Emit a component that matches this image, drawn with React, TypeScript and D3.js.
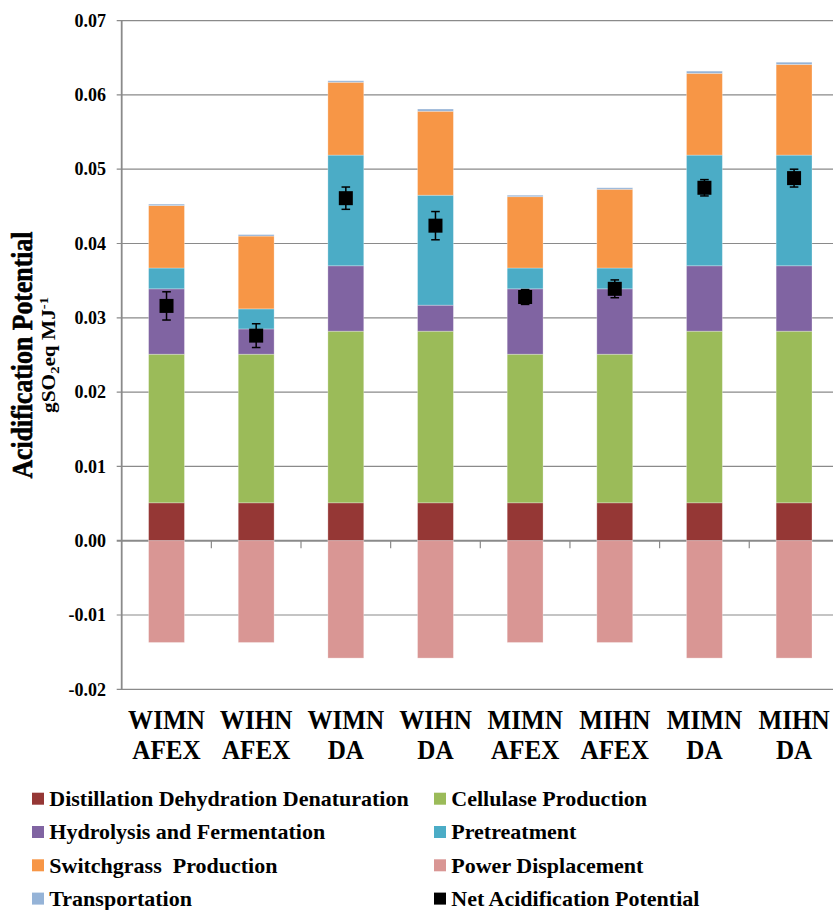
import React from "react";
import * as d3 from "d3";

const categories = [
  ["WIMN", "AFEX"],
  ["WIHN", "AFEX"],
  ["WIMN", "DA"],
  ["WIHN", "DA"],
  ["MIMN", "AFEX"],
  ["MIHN", "AFEX"],
  ["MIMN", "DA"],
  ["MIHN", "DA"],
];

const distillation = [0.0051, 0.0051, 0.0051, 0.0051, 0.0051, 0.0051, 0.0051, 0.0051];
const cellulase = [0.02, 0.02, 0.0231, 0.0231, 0.02, 0.02, 0.0231, 0.0231];
const hydrolysis = [0.0088, 0.0034, 0.0088, 0.0035, 0.0088, 0.0088, 0.0088, 0.0088];
const pretreatment = [0.0028, 0.0027, 0.0149, 0.0148, 0.0028, 0.0028, 0.0149, 0.0149];
const switchgrass = [0.0084, 0.0098, 0.0098, 0.0113, 0.0096, 0.0106, 0.011, 0.0122];
const transportation = [0.0002, 0.0002, 0.0002, 0.0003, 0.0002, 0.0002, 0.0003, 0.0003];
const powerDisplacement = [-0.0137, -0.0137, -0.0158, -0.0158, -0.0137, -0.0137, -0.0158, -0.0158];
const netAcidification = [0.0316, 0.0276, 0.0461, 0.0424, 0.0328, 0.0339, 0.0475, 0.0488];
const netError = [0.0019, 0.0016, 0.0015, 0.0019, 0.001, 0.0012, 0.0011, 0.0012];

const yTicks = [-0.02, -0.01, 0, 0.01, 0.02, 0.03, 0.04, 0.05, 0.06, 0.07];

const seriesDefs = [
  { key: "ddd", name: "Distillation Dehydration Denaturation", color: "#953735", values: distillation },
  { key: "cell", name: "Cellulase Production", color: "#9BBB59", values: cellulase },
  { key: "hyd", name: "Hydrolysis and Fermentation", color: "#8064A2", values: hydrolysis },
  { key: "pre", name: "Pretreatment", color: "#4BACC6", values: pretreatment },
  { key: "sw", name: "Switchgrass  Production", color: "#F79646", values: switchgrass },
  { key: "pow", name: "Power Displacement", color: "#D99694", values: powerDisplacement },
  { key: "tr", name: "Transportation", color: "#95B3D7", values: transportation },
];

const legendItems = [
  { name: "Distillation Dehydration Denaturation", color: "#953735" },
  { name: "Cellulase Production", color: "#9BBB59" },
  { name: "Hydrolysis and Fermentation", color: "#8064A2" },
  { name: "Pretreatment", color: "#4BACC6" },
  { name: "Switchgrass  Production", color: "#F79646" },
  { name: "Power Displacement", color: "#D99694" },
  { name: "Transportation", color: "#95B3D7" },
  { name: "Net Acidification Potential", color: "#000000" },
];

const FONT = "'Liberation Serif', 'Times New Roman', serif";
const fmtTick = (t: number) => d3.format(".2f")(t).replace("\u2212", "-");

export default function App() {
  const W = 833;
  const H = 910;
  const left = 121.7;
  const step = 89.65;
  const right = left + step * categories.length;

  const names = categories.map((c) => c.join(" "));
  const x = d3
    .scaleBand<string>()
    .domain(names)
    .range([left, right])
    .paddingInner(0.6)
    .paddingOuter(0.3);
  const y = d3.scaleLinear().domain([-0.02, 0.07]).range([689.3, 20.6]);

  const rows = names.map((n, i) => {
    const r: Record<string, number | string> = { name: n };
    seriesDefs.forEach((s) => (r[s.key] = s.values[i]));
    return r;
  });
  const stack = d3
    .stack<Record<string, number | string>>()
    .keys(seriesDefs.map((s) => s.key))
    .value((d, k) => d[k] as number)
    .offset(d3.stackOffsetDiverging);
  const layers = stack(rows);

  const gridColor = "#8a8a8a";
  const bw = x.bandwidth();

  return (
    <svg
      width={W}
      height={H}
      style={{ position: "absolute", left: 0, top: 0, background: "#fff" }}
      fontFamily={FONT}
      fontWeight="bold"
    >
      <rect x={0} y={0} width={W} height={H} fill="#fff" />
      {/* gridlines and y ticks */}
      {yTicks.map((t) => (
        <g key={t}>
          <line
            x1={left - 5}
            x2={right}
            y1={y(t)}
            y2={y(t)}
            stroke={gridColor}
            strokeWidth={t === 0 ? 2 : 1.2}
          />
          <text x={106} y={y(t) + 6.2} textAnchor="end" fontSize={18} fill="#000">
            {fmtTick(t)}
          </text>
        </g>
      ))}
      {/* category ticks below zero */}
      {d3.range(1, categories.length + 1).map((k) => (
        <line
          key={k}
          x1={left + k * step}
          x2={left + k * step}
          y1={y(0)}
          y2={y(0) + 7.5}
          stroke={gridColor}
          strokeWidth={1.2}
        />
      ))}
      {/* stacked bars */}
      {layers.map((layer, li) => (
        <g key={layer.key} fill={seriesDefs[li].color}>
          {layer.map((d, i) => {
            const y0 = y(d[0]);
            const y1 = y(d[1]);
            const h = Math.abs(y0 - y1);
            if (h === 0) return null;
            return (
              <rect
                key={i}
                x={x(names[i])}
                y={Math.min(y0, y1)}
                width={bw}
                height={h}
                stroke="#ffffff"
                strokeOpacity={0.35}
                strokeWidth={0.8}
              />
            );
          })}
        </g>
      ))}
      {/* y axis line */}
      <line x1={left} x2={left} y1={y(0.07)} y2={y(-0.02)} stroke={gridColor} strokeWidth={1.8} />
      {/* net values with error bars */}
      {netAcidification.map((v, i) => {
        const cx = (x(names[i]) as number) + bw / 2;
        const top = y(v + netError[i]);
        const bot = y(v - netError[i]);
        return (
          <g key={i}>
            <line x1={cx} x2={cx} y1={top} y2={bot} stroke="#000" strokeWidth={1.5} />
            <line x1={cx - 4.3} x2={cx + 4.3} y1={top} y2={top} stroke="#000" strokeWidth={1.5} />
            <line x1={cx - 4.3} x2={cx + 4.3} y1={bot} y2={bot} stroke="#000" strokeWidth={1.5} />
            <rect x={cx - 7} y={y(v) - 7} width={14} height={14} fill="#000" />
          </g>
        );
      })}
      {/* category labels */}
      {categories.map((c, i) => {
        const cx = (x(names[i]) as number) + bw / 2;
        return (
          <g key={i} transform={`translate(${cx},0) scale(0.95,1)`}>
            <text textAnchor="middle" fontSize={26.5} fill="#000">
              <tspan x={0} y={729.3}>{c[0]}</tspan>
              <tspan x={0} y={759}>{c[1]}</tspan>
            </text>
          </g>
        );
      })}
      {/* y axis title */}
      <text
        transform={`translate(32.2, 355) rotate(-90)`}
        textAnchor="middle"
        fontSize={29}
        fill="#000"
        stroke="#000"
        strokeWidth={0.6}
        textLength={247}
        lengthAdjust="spacingAndGlyphs"
      >
        Acidification Potential
      </text>
      <text
        transform={`translate(54.5, 355) rotate(-90)`}
        textAnchor="middle"
        fontSize={19}
        fill="#000"
        textLength={116}
        lengthAdjust="spacingAndGlyphs"
      >
        gSO<tspan fontSize={13} dy={4}>2</tspan>
        <tspan dy={-4}>eq MJ</tspan>
        <tspan fontSize={13} dy={-7}>-1</tspan>
      </text>
      {/* legend */}
      {legendItems.map((it, i) => {
        const col = i % 2;
        const row = Math.floor(i / 2);
        const sx = col === 0 ? 32 : 434;
        const tx = col === 0 ? 49.3 : 451.3;
        const base = 806 + row * 33.3;
        return (
          <g key={it.name}>
            <rect x={sx} y={base - 13.3} width={12} height={12} fill={it.color} />
            <text x={tx} y={base} fontSize={22} fill="#000" style={{ whiteSpace: "pre" }}>
              {it.name}
            </text>
          </g>
        );
      })}
    </svg>
  );
}
